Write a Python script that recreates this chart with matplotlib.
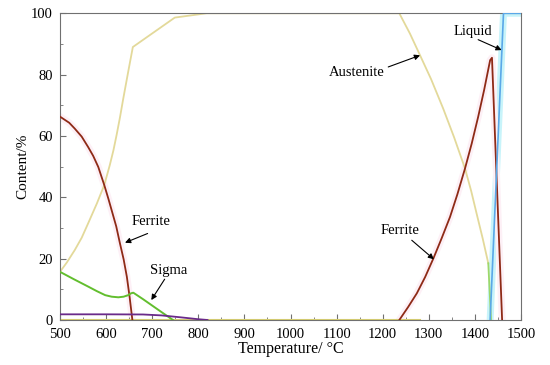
import numpy as np
import matplotlib; matplotlib.use("Agg")
import matplotlib.pyplot as plt
import matplotlib.ticker as ticker

# phase fractions (temperature in degC, content in %)
aus_T = [500, 515, 532, 547, 561, 580, 596, 608, 616, 623, 630, 637, 648, 658,
         749, 818, 1000, 1236, 1259, 1281, 1305, 1331, 1355, 1378.5, 1392,
         1404, 1417, 1429]
aus_v = [15.7, 18.8, 22.8, 26.8, 31.5, 38, 44, 50.5, 55.4, 60.5, 66, 72,
         81, 89, 98.6, 100, 100, 100, 93.4, 86.3, 78.5, 69, 59.5, 49.4, 42,
         34.5, 26.5, 18.5]
aus_tail_T = [1429, 1435]
aus_tail_v = [18.5, 0]
aus_zero_T = [500, 1281]
aus_zero_v = [0, 0]

fer1_T = [500, 520, 532, 547, 561, 572, 583, 596, 605, 612, 622, 630, 638,
          645, 651, 657]
fer1_v = [66.3, 64.3, 62.4, 59.8, 56.4, 53.5, 49.9, 44, 39.5, 35.8, 30.5, 25,
          19.8, 14.1, 7.5, 0]

fer2_T = [1236, 1255, 1274, 1292, 1310, 1328, 1346, 1362, 1378.5, 1393, 1407,
          1420, 1433, 1437, 1459]
fer2_v = [0, 4.2, 8.7, 14, 20.1, 26.7, 33.6, 41, 49.4, 57.5, 66.2, 75, 84.7,
          85.5, 0]

sig_T = [500, 530, 561, 580, 598, 612, 626.5, 638, 648, 654, 659, 680, 700,
         720, 745]
sig_v = [15.7, 13.3, 10.9, 9.4, 8.1, 7.6, 7.4, 7.6, 8.1, 8.7, 8.9, 6.8, 4.7,
         2.6, 0]

pur_T = [500, 600, 680, 720, 760, 800, 820]
pur_v = [1.85, 1.85, 1.8, 1.5, 0.9, 0.25, 0]

liq_T = [1433, 1462, 1500]
liq_v = [0, 100, 100]

# text, text centre (T, v), arrow tail (T, v), arrow head (T, v)
labels = [
    ("Ferrite", (698, 32.0), (690, 28.2), (641, 25.2)),
    ("Sigma", (735, 16.1), (727, 13.3), (698, 6.5)),
    ("Austenite", (1143, 80.8), (1212, 82.5), (1281, 86.3)),
    ("Liquid", (1395, 93.9), (1407, 91.4), (1458, 88)),
    ("Ferrite", (1237, 29.3), (1263, 26.0), (1311, 19.8)),
]

plt.rcParams["font.family"] = ["Liberation Serif", "DejaVu Serif"]

fig = plt.figure(figsize=(5.5, 3.65), dpi=100)
ax = fig.add_axes([0.1091, 0.1233, 0.8382, 0.8403])

# faint highlight bands seen in the source image
ax.plot(liq_T, liq_v, color="#C8F4FA", lw=5, solid_capstyle="butt", zorder=1)
ax.plot(fer1_T, fer1_v, color="#FDF0F6", lw=5, zorder=1)
ax.plot(fer2_T, fer2_v, color="#FDF0F6", lw=5, zorder=1)

ax.plot(aus_zero_T, aus_zero_v, color="#D8D070", lw=1.5, zorder=2)
ax.plot(aus_T, aus_v, color="#E3D99A", lw=1.3, zorder=2)
ax.plot(aus_tail_T, aus_tail_v, color="#9ED86A", lw=1.3, zorder=2)
ax.plot(fer1_T, fer1_v, color="#8E2A16", lw=1.3, zorder=3)
ax.plot(fer2_T, fer2_v, color="#8E2A16", lw=1.3, zorder=3)
ax.plot(sig_T, sig_v, color="#62BE2E", lw=1.4, zorder=3)
ax.plot(pur_T, pur_v, color="#6A2A8A", lw=1.3, zorder=3)
ax.plot(liq_T, liq_v, color="#5AA8E8", lw=1.2, zorder=4)

for text, xy_text, tail, head in labels:
    ax.text(*xy_text, text, ha="center", va="center", fontsize=10.5)
    ax.annotate("", xy=head, xytext=tail,
                arrowprops=dict(arrowstyle="-|>", color="black", lw=0.8,
                                shrinkA=0, shrinkB=0, mutation_scale=8))

ax.set_xlim(500, 1500)
ax.set_ylim(0, 100)
ax.xaxis.set_major_locator(ticker.MultipleLocator(100))
ax.xaxis.set_minor_locator(ticker.MultipleLocator(50))
ax.yaxis.set_major_locator(ticker.MultipleLocator(20))
ax.yaxis.set_minor_locator(ticker.MultipleLocator(10))
ax.tick_params(which="both", direction="in", color="#707070", labelsize=10.5)
ax.tick_params(which="major", length=4)
ax.tick_params(which="minor", length=2.5)
ax.tick_params(axis="y", pad=5)
ax.tick_params(axis="x", pad=5.5)
for sp in ax.spines.values():
    sp.set_color("#707070")
    sp.set_linewidth(0.8)

ax.set_xlabel("Temperature/ °C", fontsize=11.5, labelpad=0)
ax.set_ylabel("Content/%", fontsize=11, labelpad=1)

plt.savefig("out.png", dpi=100)
